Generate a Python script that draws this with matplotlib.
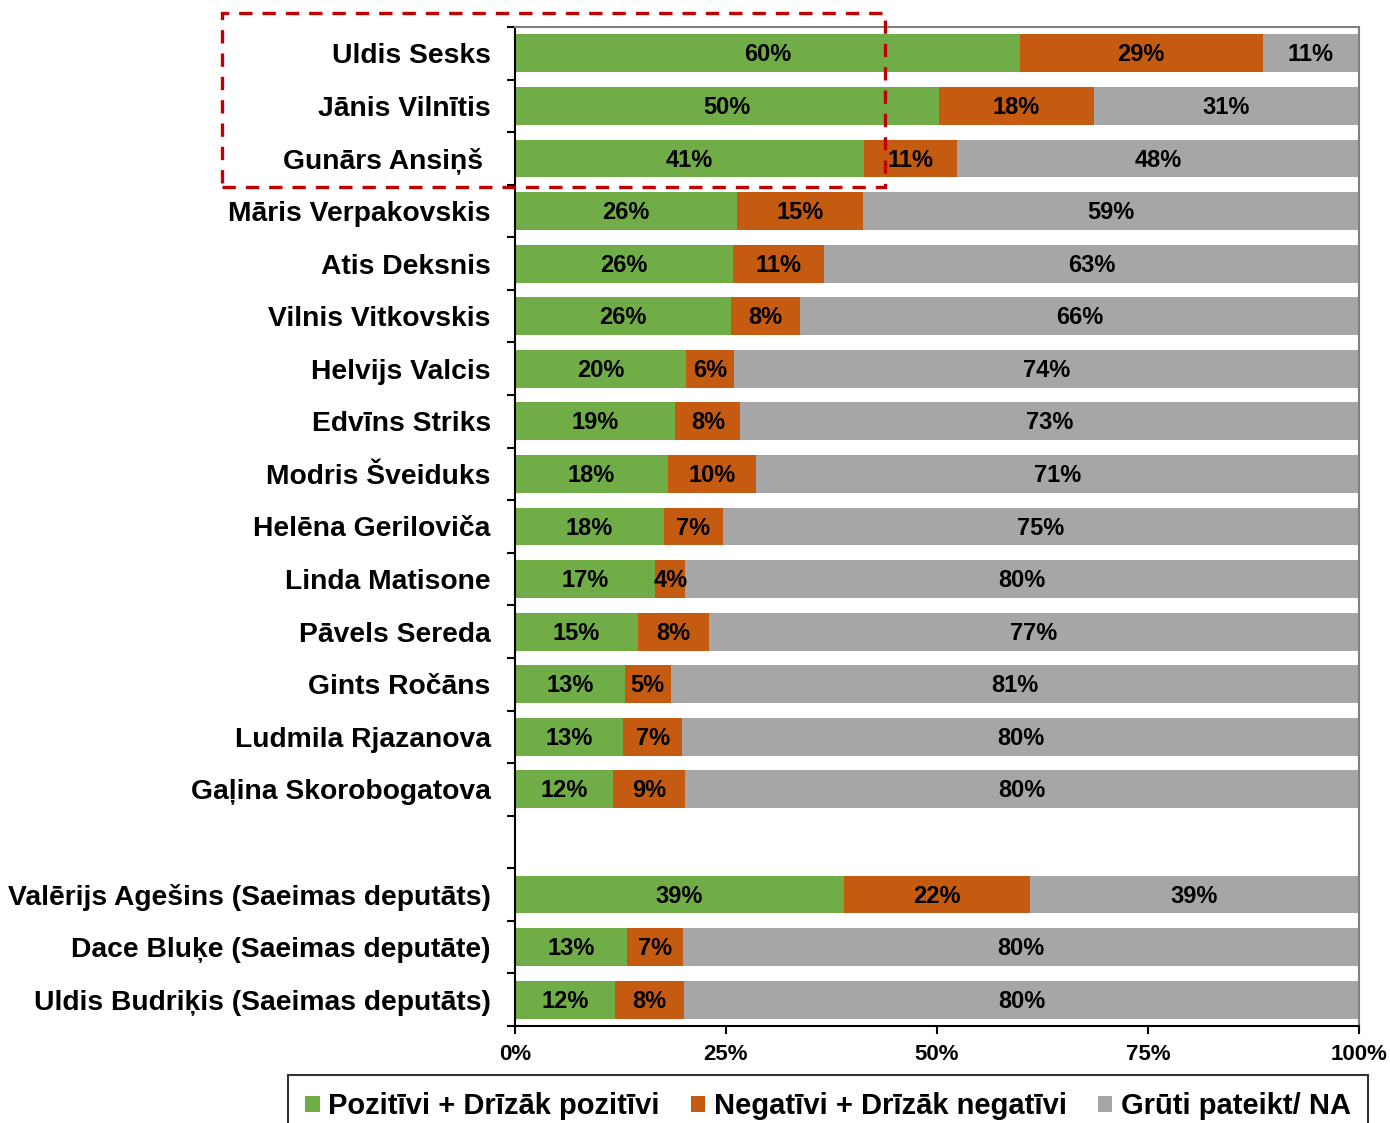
import matplotlib.pyplot as plt
import numpy as np
from matplotlib.patches import Patch, Rectangle

plt.rcParams['font.family'] = ['Liberation Sans', 'DejaVu Sans']
plt.rcParams['font.weight'] = 'bold'

names = ['Uldis Sesks', 'Jānis Vilnītis', 'Gunārs Ansiņš ', 'Māris Verpakovskis',
         'Atis Deksnis', 'Vilnis Vitkovskis', 'Helvijs Valcis', 'Edvīns Striks',
         'Modris Šveiduks', 'Helēna Gerilovičа'.replace('а', 'a'), 'Linda Matisone', 'Pāvels Sereda',
         'Gints Ročāns', 'Ludmila Rjazanova', 'Gaļina Skorobogatova',
         'Valērijs Agešins (Saeimas deputāts)', 'Dace Bluķe (Saeimas deputāte)',
         'Uldis Budriķis (Saeimas deputāts)']
group_sizes = [15, 3]

positive = [59.8, 50.2, 41.4, 26.3, 25.8, 25.6, 20.3, 19.0, 18.1, 17.6,
            16.6, 14.6, 13.0, 12.8, 11.6, 39.0, 13.3, 11.8]
negative = [28.8, 18.4, 11.0, 14.9, 10.8, 8.2, 5.6, 7.7, 10.4, 7.0,
            3.6, 8.4, 5.4, 7.0, 8.6, 22.0, 6.6, 8.2]
unknown = [11.4, 31.4, 47.6, 58.8, 63.4, 66.2, 74.1, 73.3, 71.4, 75.4,
           79.8, 77.0, 81.4, 80.2, 79.8, 39.0, 80.1, 80.0]

series = ['Pozitīvi + Drīzāk pozitīvi', 'Negatīvi + Drīzāk negatīvi', 'Grūti pateikt/ NA']
colors = ['#70AD47', '#C55A11', '#A6A6A6']

# row positions, one empty row between the groups
pos = []
start = 0
for size in group_sizes:
    pos.extend(range(start, start + size))
    start += size + 1
pos = np.array(pos)
n_rows = start - 1

raw = np.array([positive, negative, unknown])
widths = raw / raw.sum(axis=0) * 100

fig = plt.figure(figsize=(13.9, 11.23), dpi=100)
ax = fig.add_axes([515 / 1390, 1 - 1026 / 1123, 844 / 1390, 999 / 1123])

left = np.zeros(len(pos))
for k in range(3):
    ax.barh(pos, widths[k], left=left, height=0.72, color=colors[k], label=series[k])
    for y, l, w, v in zip(pos, left, widths[k], raw[k]):
        ax.text(l + w / 2, y + 0.03, f'{round(v)}%', ha='center', va='center',
                fontsize=17, fontweight='bold', color='black')
    left += widths[k]

ax.set_xlim(0, 100)
ax.set_ylim(n_rows - 0.5, -0.5)
ax.set_xticks([0, 25, 50, 75, 100])
ax.set_xticklabels(['0%', '25%', '50%', '75%', '100%'], fontsize=16, fontweight='bold')
ax.tick_params(axis='x', length=6, width=1.5, pad=7)

ax.set_yticks(pos)
ax.set_yticklabels(names, fontsize=20.3, fontweight='bold')
ax.set_yticks(np.arange(-0.5, n_rows), minor=True)
ax.tick_params(axis='y', which='major', length=0, pad=17.5)
ax.tick_params(axis='y', which='minor', length=6, width=1.5)

for side in ['left', 'bottom']:
    ax.spines[side].set_linewidth(1.5)
    ax.spines[side].set_color('black')
for side in ['top', 'right']:
    ax.spines[side].set_linewidth(1.5)
    ax.spines[side].set_color('#808080')

handles = [Patch(facecolor=c, edgecolor='none') for c in colors]
leg = fig.legend(handles, series, loc='upper center', bbox_to_anchor=(828 / 1390, 1 - 1075 / 1123),
                 ncol=3, frameon=True, fancybox=False, edgecolor='black',
                 handlelength=0.5, handleheight=0.5, handletextpad=0.3,
                 columnspacing=1.05, borderpad=0.6, borderaxespad=0,
                 prop={'weight': 'bold', 'size': 21})
leg.get_frame().set_linewidth(1.5)

# dashed highlight around the top three
fig.add_artist(Rectangle((222 / 1390, 1 - 187 / 1123), 663 / 1390, 174 / 1123,
                         transform=fig.transFigure, fill=False, edgecolor='#C00000',
                         linewidth=2.4, linestyle=(0, (4, 3)), zorder=10))

fig.savefig('out.png', dpi=100)
